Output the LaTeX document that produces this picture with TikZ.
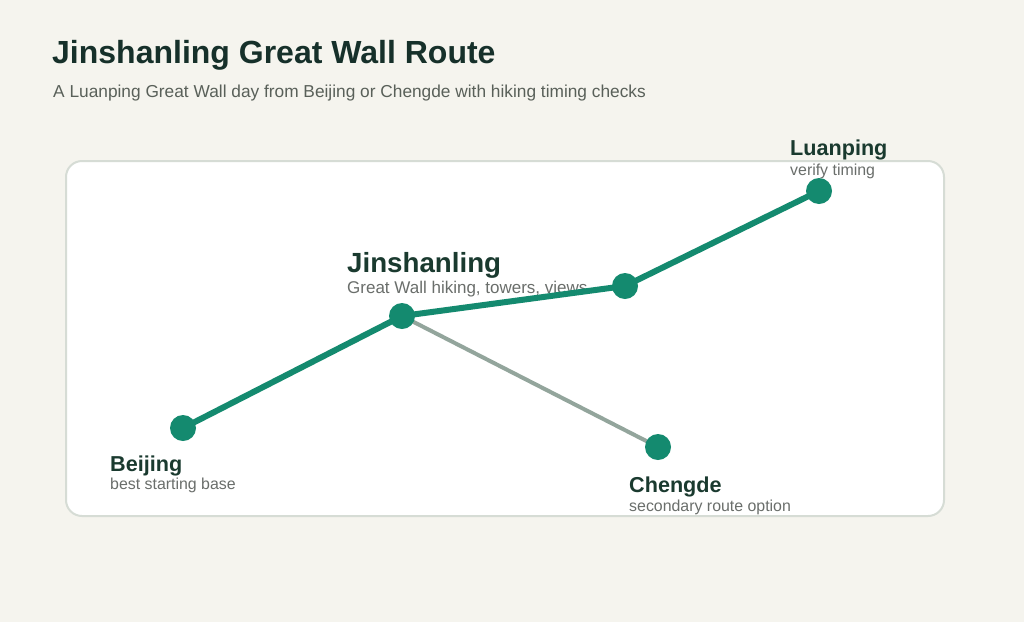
\documentclass[tikz,border=0pt]{standalone}
\usepackage{fontspec}
\setmainfont{Liberation Sans}
\definecolor{bgc}{HTML}{F5F4EE}
\definecolor{panelline}{HTML}{D6DCD5}
\definecolor{titlec}{HTML}{16302A}
\definecolor{subc}{HTML}{596059}
\definecolor{labc}{HTML}{1A3A2F}
\definecolor{slabc}{HTML}{6A6E6B}
\definecolor{routec}{HTML}{148A6F}
\definecolor{altc}{HTML}{93A59C}
\tikzset{
  stop/.style={circle,fill=routec,minimum size=26pt,inner sep=0pt},
  mainlab/.style={anchor=base west,inner sep=0pt,text=labc,font=\bfseries\fontsize{21.6}{24}\selectfont},
  sublab/.style={anchor=base west,inner sep=0pt,text=slabc,font=\fontsize{15.9}{18}\selectfont},
  route/.style={draw=routec,line width=6pt},
  altroute/.style={draw=altc,line width=4pt},
}
\begin{document}
\begin{tikzpicture}[x=1pt,y=-1pt]
\fill[bgc] (0,0) rectangle (1024,622);
\useasboundingbox (0,0) rectangle (1024,622);
\node[anchor=base west,inner sep=0pt,text=titlec,font=\bfseries\fontsize{32}{36}\selectfont] (title) at (52,63) {Jinshanling Great Wall Route};
\node[anchor=base west,inner sep=0pt,text=subc,font=\fontsize{17.3}{20}\selectfont] (subtitle) at (53,97) {A Luanping Great Wall day from Beijing or Chengde with hiking timing checks};
\draw[panelline,fill=white,line width=2pt,rounded corners=16pt] (66,161) rectangle (944,516);
% stop positions
\coordinate (cB) at (183,428);
\coordinate (cJ) at (402,316);
\coordinate (cM) at (625,286);
\coordinate (cL) at (819,191);
\coordinate (cC) at (658,447);
% labels
\node[mainlab,font=\bfseries\fontsize{27.7}{30}\selectfont] (lJ) at (347,272) {Jinshanling};
\node[sublab,font=\fontsize{17}{19}\selectfont] (sJ) at (347,293) {Great Wall hiking, towers, views};
\node[mainlab] (lB) at (110,471) {Beijing};
\node[sublab] (sB) at (110,489) {best starting base};
\node[mainlab] (lL) at (790,155) {Luanping};
\node[sublab] (sL) at (790,175) {verify timing};
\node[mainlab] (lC) at (629,492) {Chengde};
\node[sublab] (sC) at (629,511) {secondary route option};
% connectors
\draw[altroute] (cJ) -- (cC);
\draw[route] (cB) -- (cJ);
\draw[route] (cJ) -- (cM);
\draw[route] (cM) -- (cL);
% stops
\node[stop] (B) at (cB) {};
\node[stop] (J) at (cJ) {};
\node[stop] (M) at (cM) {};
\node[stop] (L) at (cL) {};
\node[stop] (C) at (cC) {};
\end{tikzpicture}
\end{document}
